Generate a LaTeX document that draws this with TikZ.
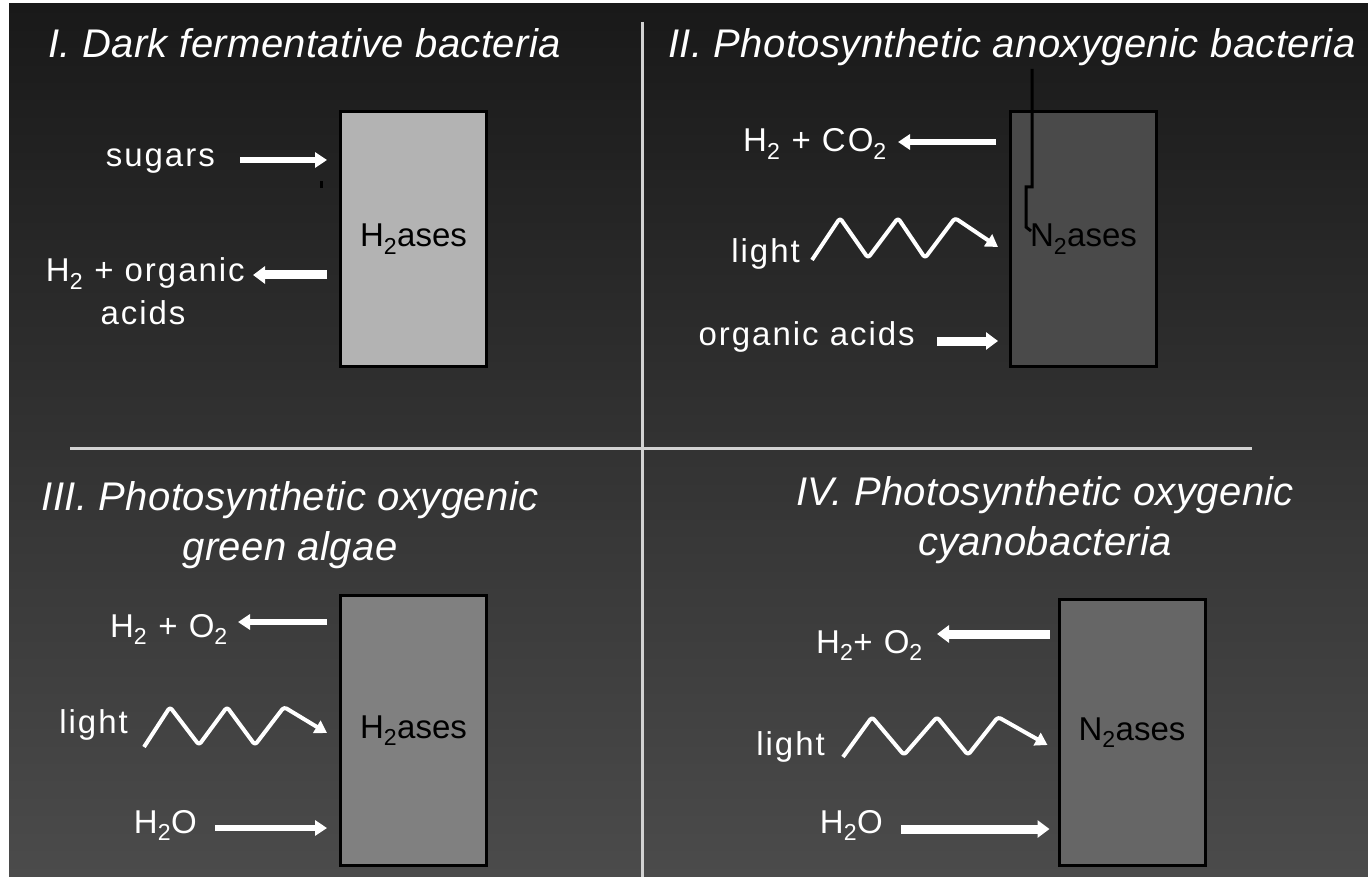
\documentclass[tikz,border=0pt]{standalone}
\usepackage{fontspec}
\setmainfont{Liberation Sans}
\newfontfamily\lblfont[LetterSpace=6]{Liberation Sans}
\newfontfamily\ttlfont[LetterSpace=1]{Liberation Sans}
\usetikzlibrary{arrows.meta}
\definecolor{bgtop}{HTML}{191919}
\definecolor{bgmid}{HTML}{3C3C3C}
\definecolor{bgbot}{HTML}{4B4B4B}
\definecolor{divider}{HTML}{D2D2D2}
\definecolor{fillI}{HTML}{B3B3B3}
\definecolor{fillII}{HTML}{4A4A4A}
\definecolor{fillIII}{HTML}{808080}
\definecolor{fillIV}{HTML}{666666}
\newcommand{\stwo}{\textsubscript{2}}
\begin{document}
\begin{tikzpicture}[x=1pt,y=-1pt,
  title/.style={font=\fontsize{40}{50}\selectfont\ttlfont\itshape, text=white, inner sep=0pt, align=center},
  lbl/.style={font=\fontsize{33}{43}\selectfont\lblfont, text=white, inner sep=0pt},
  enzyme/.style={draw=black, line width=3pt, minimum width=146pt, inner sep=0pt,
    font=\fontsize{33}{40}\selectfont, text=black},
  thinarr/.style={white, line width=6pt, -{Triangle[length=12pt,width=15pt]}},
  thickarr/.style={white, line width=9pt, -{Triangle[length=12pt,width=17pt]}},
  wave/.style={white, line width=4pt, rounded corners=3pt, line join=round,
    -{Triangle[length=12pt,width=14pt]}},
  divline/.style={divider, line width=3pt}
]
\useasboundingbox (0,0) rectangle (1368,877);
\fill[white] (0,0) rectangle (1368,877);
\shade[top color=bgtop, middle color=bgmid, bottom color=bgbot] (9,4) rectangle (1368,877);

% dividers
\draw[divline] (642,22) -- (642,877);
\draw[divline] (70,448) -- (1252,448);

% ---------- Panel I ----------
\node[title, anchor=base west] (tI) at (48,58) {I. Dark fermentative bacteria};
\node[enzyme, fill=fillI, minimum height=255pt] (bI) at (413.5,239) {H\stwo ases};
\node[lbl, anchor=base east] (sug) at (215,167) {sugars};
\node[lbl, anchor=base east] (oa1) at (245,282) {H\stwo\ + organic};
\node[lbl, anchor=base] (oa2) at (143,325) {acids};
\coordinate (sugS) at (240,160);
\coordinate (oaE) at (253,275);
\draw[thinarr] (sugS) -- ([xshift=-12pt]bI.west |- sugS);
\draw[thickarr] ([xshift=-12pt]bI.west |- oaE) -- (oaE);
\fill[black] (320,181) rectangle (323,188);

% ---------- Panel II ----------
\node[title, anchor=base west] (tII) at (668,58) {II. Photosynthetic anoxygenic bacteria};
\node[enzyme, fill=fillII, minimum height=255pt] (bII) at (1083.5,239) {N\stwo ases};
\node[lbl, anchor=base east] (hco) at (887,152) {H\stwo\ + CO\stwo};
\node[lbl, anchor=base east] (lII) at (800,263) {light};
\node[lbl, anchor=base east] (oaII) at (915,345) {organic acids};
\coordinate (hcoE) at (898,142);
\coordinate (wII) at (812,260);
\coordinate (oaIIS) at (937,341);
\draw[thinarr] ([xshift=-13pt]bII.west |- hcoE) -- (hcoE);
\draw[wave] (wII) -- (840,218) -- (868,258) -- (898,218) -- (925,258) -- (955,218) -- ([xshift=-11pt]bII.west |- 0,247);
\draw[thickarr] (oaIIS) -- ([xshift=-11pt]bII.west |- oaIIS);
\draw[black, line width=3pt] (1032,69) -- (1032,187) -- (1026,187) -- (1026,227) -- (1031,231);

% ---------- Panel III ----------
\node[title, anchor=base] (tIII) at (290,560) {III. Photosynthetic oxygenic\\green algae};
\node[enzyme, fill=fillIII, minimum height=270pt] (bIII) at (413.5,730.5) {H\stwo ases};
\node[lbl, anchor=base east] (hoIII) at (228,637) {H\stwo\ + O\stwo};
\node[lbl, anchor=base east] (lIII) at (128,733) {light};
\node[lbl, anchor=base east] (wIII) at (197,833) {H\stwo O};
\coordinate (hoIIIE) at (238,622);
\coordinate (wvIII) at (144,747);
\coordinate (waIIIS) at (215,828);
\draw[thinarr] ([xshift=-12pt]bIII.west |- hoIIIE) -- (hoIIIE);
\draw[wave] (wvIII) -- (170,707) -- (199,745) -- (227,707) -- (255,745) -- (284,707) -- ([xshift=-12pt]bIII.west |- 0,733);
\draw[thinarr] (waIIIS) -- ([xshift=-12pt]bIII.west |- waIIIS);

% ---------- Panel IV ----------
\node[title, anchor=base] (tIV) at (1045,555) {IV. Photosynthetic oxygenic\\cyanobacteria};
\node[enzyme, fill=fillIV, minimum height=266pt] (bIV) at (1132,732.5) {N\stwo ases};
\node[lbl, anchor=base east] (hoIV) at (923,653) {H\stwo + O\stwo};
\node[lbl, anchor=base east] (lIV) at (825,755) {light};
\node[lbl, anchor=base east] (wIV) at (883,833) {H\stwo O};
\coordinate (hoIVE) at (937,634);
\coordinate (wvIV) at (843,757);
\coordinate (waIVS) at (901,829);
\draw[thickarr] ([xshift=-8pt]bIV.west |- hoIVE) -- (hoIVE);
\draw[wave] (wvIV) -- (872,717) -- (904,755) -- (937,717) -- (968,755) -- (998,717) -- ([xshift=-10pt]bIV.west |- 0,745);
\draw[thickarr] (waIVS) -- ([xshift=-8pt]bIV.west |- waIVS);
\end{tikzpicture}
\end{document}
